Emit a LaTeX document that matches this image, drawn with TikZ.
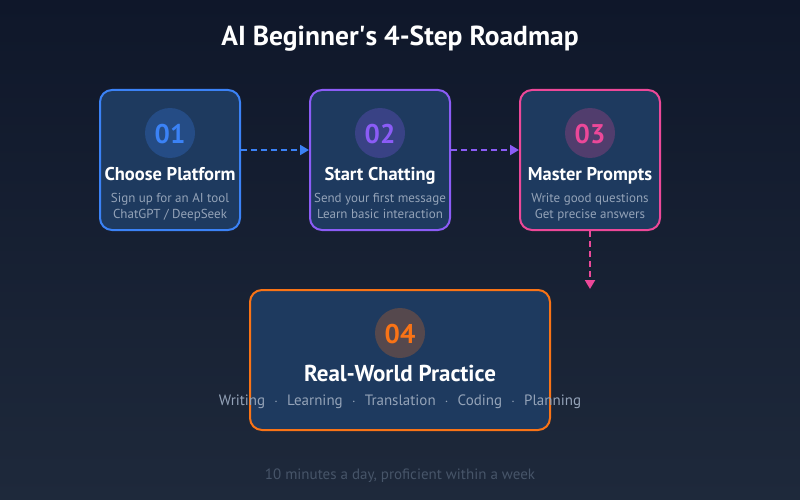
\documentclass[tikz,border=0pt]{standalone}
\usepackage{fontspec}
\setmainfont{PT Sans}
\usetikzlibrary{arrows.meta}
\definecolor{bgA}{HTML}{0F172A}
\definecolor{bgB}{HTML}{1E293B}
\definecolor{boxfill}{HTML}{1E3A5F}
\definecolor{cblue}{HTML}{3B82F6}
\definecolor{cpurple}{HTML}{8B5CF6}
\definecolor{cpink}{HTML}{EC4899}
\definecolor{corange}{HTML}{F97316}
\definecolor{subtext}{HTML}{94A3B8}
\definecolor{foot}{HTML}{475569}
\tikzset{
  stepbox/.style={draw=#1, line width=2pt, fill=boxfill, rounded corners=12pt},
  numcirc/.style={circle, fill=#1!25!boxfill, minimum size=50pt, inner sep=0pt},
  numtxt/.style={text=#1, font=\bfseries\fontsize{27}{27}\selectfont, anchor=base, inner sep=0pt},
  ttl/.style={text=white, font=\bfseries\fontsize{18.5}{18.5}\selectfont, anchor=base, inner sep=0pt},
  sub/.style={text=subtext, font=\fontsize{13}{13}\selectfont, anchor=base, inner sep=0pt},
  flow/.style={draw=#1, line width=2pt, dash pattern=on 6pt off 4pt, -{Triangle[length=9pt,width=10pt,fill=#1]}},
}
\begin{document}
\begin{tikzpicture}[x=1pt,y=-1pt]
\useasboundingbox (0,0) rectangle (800,500);
\shade[shading angle=135, top color=bgA, bottom color=bgB] (0,0) rectangle (800,500);
\node[text=white, font=\bfseries\fontsize{27.5}{27.5}\selectfont, anchor=base, inner sep=0pt] (title) at (400,46) {AI Beginner\textquotesingle s 4-Step Roadmap};

% boxes
\node[stepbox=cblue, minimum width=140pt, minimum height=140pt, inner sep=0pt] (b1) at (170,160) {};
\node[stepbox=cpurple, minimum width=140pt, minimum height=140pt, inner sep=0pt] (b2) at (380,160) {};
\node[stepbox=cpink, minimum width=140pt, minimum height=140pt, inner sep=0pt] (b3) at (590,160) {};
\node[stepbox=corange, minimum width=300pt, minimum height=140pt, inner sep=0pt] (b4) at (400,360) {};

% box 1
\node[numcirc=cblue] (c1) at (170,133) {};
\node[numtxt=cblue] (n1) at (170,143) {01};
\node[ttl] (t1) at (170,180) {Choose Platform};
\node[sub] (s1a) at (170,202) {Sign up for an AI tool};
\node[sub] (s1b) at (170,218) {ChatGPT / DeepSeek};

% box 2
\node[numcirc=cpurple] (c2) at (380,133) {};
\node[numtxt=cpurple] (n2) at (380,143) {02};
\node[ttl] (t2) at (380,180) {Start Chatting};
\node[sub] (s2a) at (380,202) {Send your first message};
\node[sub] (s2b) at (380,218) {Learn basic interaction};

% box 3
\node[numcirc=cpink] (c3) at (590,133) {};
\node[numtxt=cpink] (n3) at (590,143) {03};
\node[ttl] (t3) at (590,180) {Master Prompts};
\node[sub] (s3a) at (590,202) {Write good questions};
\node[sub] (s3b) at (590,218) {Get precise answers};

% box 4
\node[numcirc=corange] (c4) at (400,333) {};
\node[numtxt=corange] (n4) at (400,343) {04};
\node[ttl, font=\bfseries\fontsize{23}{23}\selectfont] (t4) at (400,381) {Real-World Practice};
\node[sub, font=\fontsize{15}{15}\selectfont] (s4) at (400,405) {Writing\hspace{0.6em}$\cdot$\hspace{0.6em}Learning\hspace{0.6em}$\cdot$\hspace{0.6em}Translation\hspace{0.6em}$\cdot$\hspace{0.6em}Coding\hspace{0.6em}$\cdot$\hspace{0.6em}Planning};

% footer
\node[text=foot, font=\fontsize{15}{15}\selectfont, anchor=base, inner sep=0pt] (foot) at (400,479) {10 minutes a day, proficient within a week};

% connectors
\coordinate (a1s) at ([yshift=10pt]b1.east);
\coordinate (a1e) at ([yshift=10pt]b2.west);
\coordinate (a2s) at ([yshift=10pt]b2.east);
\coordinate (a2e) at ([yshift=10pt]b3.west);
\draw[flow=cblue] (a1s) -- (a1e);
\draw[flow=cpurple] (a2s) -- (a2e);
\draw[flow=cpink] (b3.south) -- (b3.south |- b4.north);
\end{tikzpicture}
\end{document}
